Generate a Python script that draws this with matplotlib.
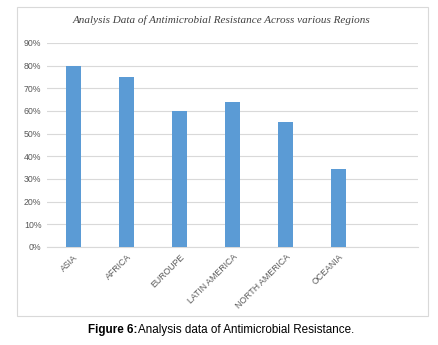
import matplotlib.pyplot as plt
from matplotlib.patches import Rectangle

regions = ['ASIA', 'AFRICA', 'EUROUPE', 'LATIN AMERICA', 'NORTH AMERICA', 'OCEANIA', '']
resistance = [0.80, 0.75, 0.60, 0.64, 0.55, 0.345, 0]
yticks = [0, 0.1, 0.2, 0.3, 0.4, 0.5, 0.6, 0.7, 0.8, 0.9]
ylabels = ['0%', '10%', '20%', '30%', '40%', '50%', '60%', '70%', '80%', '90%']

fig = plt.figure(figsize=(4.39, 3.45), dpi=100)
ax = fig.add_axes([47/439, 1-247/345, 371/439, 204/345])

x = range(len(regions))
ax.bar(x[:6], resistance[:6], width=0.3, color='#5B9BD5', zorder=3)
ax.set_xlim(-0.5, 6.5)
ax.set_ylim(0, 0.9)
ax.set_yticks(yticks)
ax.set_yticklabels(ylabels, fontsize=6.3, color='#595959', family='Liberation Sans')
ax.set_xticks(list(x))
ax.set_xticklabels(regions, rotation=45, ha='right', rotation_mode='anchor',
                   fontsize=6.3, color='#595959', family='Liberation Sans')
ax.grid(axis='y', color='#D9D9D9', linewidth=0.8, zorder=0)
for s in ['top', 'right', 'left']:
    ax.spines[s].set_visible(False)
ax.spines['bottom'].set_color('#D9D9D9')
ax.tick_params(length=0, pad=4)

fig.text(221/439, 1-20/345, 'Analysis Data of Antimicrobial Resistance Across various Regions',
         ha='center', va='center', fontsize=8, style='italic', color='#404040',
         family='Liberation Serif')

fig.patches.append(Rectangle((17/439, 1-316/345), 411/439, 309/345, transform=fig.transFigure,
                             fill=False, edgecolor='#D9D9D9', linewidth=0.8))

fig.text(137/439, 1-330/345, 'Figure 6:', ha='right', va='center', fontsize=8.4,
         weight='bold', family='Liberation Sans')
fig.text(138/439, 1-330/345, 'Analysis data of Antimicrobial Resistance.', ha='left', va='center',
         fontsize=8.4, family='Liberation Sans')

fig.savefig('out.png', dpi=100)
